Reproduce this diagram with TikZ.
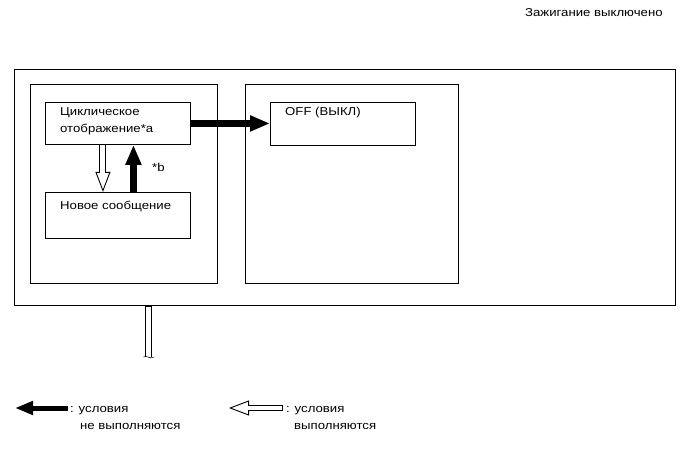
\documentclass[tikz,border=0pt]{standalone}
\usepackage{fontspec}
\setmainfont{Liberation Sans}[FakeStretch=1.15]
\usepackage{tikz}
\usetikzlibrary{arrows.meta,positioning,calc}

\begin{document}
\begin{tikzpicture}[
  x=1bp, y=-1bp,
  font=\fontsize{11.5}{18}\selectfont,
  frame/.style={draw, line width=0.9bp, inner sep=0pt, anchor=north west},
  txt/.style={anchor=base west, inner sep=0pt, align=left},
  blk/.style={line width=6.5bp, -{Triangle[length=20bp, width=15bp]}},
  hshaft/.style={line width=7bp, postaction={draw=white, line width=5bp, shorten <=0.6bp}},
  hol/.style={line width=#1, -{Triangle[open, fill=white, line width=0.9bp, length=20bp, width=15bp]},
    postaction={draw=white, line width=#1-2bp, -, shorten <=0.6bp, shorten >=19bp}},
  hol/.default=7bp,
]
\useasboundingbox (0,0) rectangle (691,467);

\node[txt] (title) at (525,17) {Зажигание выключено};

% frames
\node[frame, line width=1.2bp, minimum width=661bp, minimum height=236bp] (outer) at (14,69) {};
\node[frame, minimum width=187bp, minimum height=199bp] (left) at (30,84) {};
\node[frame, minimum width=213bp, minimum height=199bp, right=27bp of left] (right) {};

% states
\node[frame, minimum width=145bp, minimum height=42bp] (cyc) at (45,102) {};
\node[frame, minimum width=145bp, minimum height=46bp, below=47bp of cyc] (msg) {};
\node[frame, minimum width=145bp, minimum height=43bp] (off) at (270,102) {};

\node[txt] (cyctxt) at ($(cyc.north west)+(15,31)$) {Циклическое\\отображение*a};
\node[txt] (msgtxt) at ($(msg.north west)+(15,18)$) {Новое сообщение};
\node[txt] (offtxt) at ($(off.north west)+(15,14)$) {OFF (ВЫКЛ)};
\node[txt] (starb) at (152,172) {*b};

% transitions
\draw[blk] (cyc.east) -- (cyc.east -| off.west);
\draw[hol] ([xshift=-15bp]cyc.south) -- ([xshift=-15bp]msg.north);
\draw[blk] ([xshift=15.5bp]msg.north) -- ([xshift=15.5bp]cyc.south);

% stub below the frame
\coordinate (stub) at (148.5,357);
\draw[hshaft] (stub |- outer.south) -- (stub);
\draw[line width=0.6bp] ($(stub)+(-5,0)$) .. controls ($(stub)+(-2,-2)$) and ($(stub)+(1,2)$) .. ($(stub)+(5,0.5)$);

% legend
\coordinate (keyAtail) at (68,408);
\coordinate (keyAtip) at (15,408);
\coordinate (keyBtail) at (283,408);
\coordinate (keyBtip) at (229,408);
\draw[blk, line width=5bp, -{Triangle[length=18bp, width=13bp]}] (keyAtail) -- (keyAtip);
\draw[hol=6.5bp] (keyBtail) -- (keyBtip);
\node[txt, font=\fontsize{11.5}{16.5}\selectfont] (keyAtxt) at (70,429) {: условия\\\hspace*{10bp}не выполняются};
\node[txt, font=\fontsize{11.5}{16.5}\selectfont] (keyBtxt) at (286,429) {: условия\\\hspace*{8bp}выполняются};
\end{tikzpicture}
\end{document}
